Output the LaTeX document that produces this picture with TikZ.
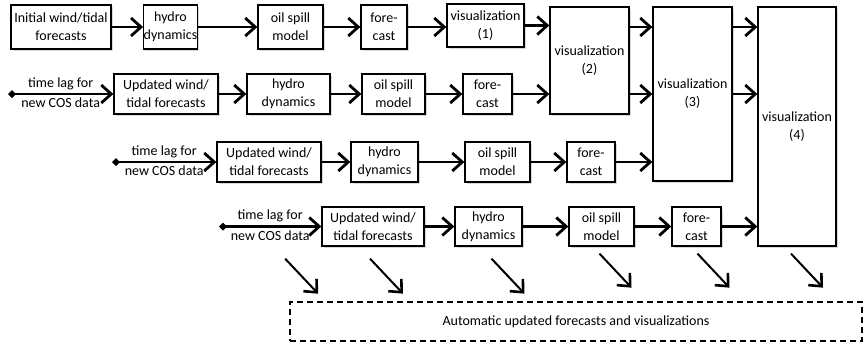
\documentclass[tikz,border=0pt]{standalone}
\usepackage{fontspec}
\setmainfont{Carlito}
\usetikzlibrary{arrows.meta,shadows,calc}

\tikzset{
    box/.style={draw, line width=1.3pt, fill=white, align=center, inner sep=0pt,
        font=\fontsize{14}{18}\selectfont,
        drop shadow={shadow xshift=1.5pt, shadow yshift=-1.5pt, opacity=.3}},
    arr/.style={line width=2.4pt, -{Straight Barb[length=10pt,width=18pt,line width=2.8pt]}},
    lagarr/.style={line width=2.4pt, {Diamond[length=8pt,width=8pt]}-{Straight Barb[length=10pt,width=18pt,line width=2.8pt]}},
    lagtxt/.style={font=\fontsize{14}{18}\selectfont, inner sep=3pt},
    diag/.style={line width=2pt, -{Straight Barb[length=10pt,width=18pt,line width=2.6pt]}},
    dashbox/.style={draw, line width=1.2pt, dash pattern=on 6pt off 4pt, inner sep=0pt,
        font=\fontsize{14}{18}\selectfont}
}

\begin{document}
\begin{tikzpicture}[x=1pt,y=-1pt]
        \useasboundingbox (0,0) rectangle (864,346);

        \node[box, minimum width=100pt, minimum height=44pt] (init) at (61,27) {Initial wind/tidal\\forecasts};
        \node[box, minimum width=53pt, minimum height=44pt] (hydro1) at (170.5,27) {hydro\\dynamics};
        \node[box, minimum width=65pt, minimum height=44pt] (oil1) at (290.5,27) {oil spill\\model};
        \node[box, minimum width=46pt, minimum height=44pt] (fore1) at (384,27) {fore-\\cast};
        \node[box, minimum width=77pt, minimum height=43pt] (viz1) at (485.5,25.5) {visualization\\(1)};
        \node[box, minimum width=79pt, minimum height=107pt] (viz2) at (589.5,60.5) {visualization\\(2)};
        \node[box, minimum width=79pt, minimum height=174pt] (viz3) at (692.5,94) {visualization\\(3)};
        \node[box, minimum width=78pt, minimum height=239pt] (viz4) at (797,126.5) {visualization\\(4)};

        \coordinate (lag2) at (8,94);
        \node[box, minimum width=104pt, minimum height=40pt] (upd2) at (166,94) {Updated wind/\\tidal forecasts};
        \node[box, minimum width=83pt, minimum height=40pt] (hydro2) at (288.5,94) {hydro\\dynamics};
        \node[box, minimum width=63pt, minimum height=40pt] (oil2) at (393.5,94) {oil spill\\model};
        \node[box, minimum width=49pt, minimum height=40pt] (fore2) at (487.5,94) {fore-\\cast};

        \coordinate (lag3) at (112,162);
        \node[box, minimum width=104pt, minimum height=40pt] (upd3) at (269,162) {Updated wind/\\tidal forecasts};
        \node[box, minimum width=67pt, minimum height=40pt] (hydro3) at (384.5,162) {hydro\\dynamics};
        \node[box, minimum width=65pt, minimum height=40pt] (oil3) at (497.5,162) {oil spill\\model};
        \node[box, minimum width=48pt, minimum height=40pt] (fore3) at (591,162) {fore-\\cast};

        \coordinate (lag4) at (219,226.5);
        \node[box, minimum width=102pt, minimum height=39pt] (upd4) at (373,226.5) {Updated wind/\\tidal forecasts};
        \node[box, minimum width=67pt, minimum height=39pt] (hydro4) at (488.5,226.5) {hydro\\dynamics};
        \node[box, minimum width=65pt, minimum height=39pt] (oil4) at (601.5,226.5) {oil spill\\model};
        \node[box, minimum width=49pt, minimum height=39pt] (fore4) at (696.5,226.5) {fore-\\cast};

        \node[dashbox, minimum width=572pt, minimum height=39pt] (auto) at (576,321.5) {Automatic updated forecasts and visualizations};

        \draw[arr] (init) -- (hydro1);
        \draw[arr] (hydro1) -- (oil1);
        \draw[arr] (oil1) -- (fore1);
        \draw[arr] (fore1.east) -- (fore1.east -| viz1.west);
        \draw[arr] (viz1.east) -- (viz1.east -| viz2.west);

        \draw[lagarr] (lag2) -- (upd2) node[midway,above,lagtxt] {time lag for} node[midway,below,lagtxt] {new COS data};
        \draw[arr] (upd2) -- (hydro2);
        \draw[arr] (hydro2) -- (oil2);
        \draw[arr] (oil2) -- (fore2);
        \draw[arr] (fore2.east) -- (fore2.east -| viz2.west);

        \draw[lagarr] (lag3) -- (upd3) node[midway,above,lagtxt] {time lag for} node[midway,below,lagtxt] {new COS data};
        \draw[arr] (upd3) -- (hydro3);
        \draw[arr] (hydro3) -- (oil3);
        \draw[arr] (oil3) -- (fore3);
        \draw[arr] (fore3.east) -- (fore3.east -| viz3.west);

        \draw[lagarr] (lag4) -- (upd4) node[midway,above,lagtxt] {time lag for} node[midway,below,lagtxt] (lagtxt4) {new COS data};
        \draw[arr] (upd4) -- (hydro4);
        \draw[arr] (hydro4) -- (oil4);
        \draw[arr] (oil4) -- (fore4);
        \draw[arr] (fore4.east) -- (fore4.east -| viz4.west);

        \draw[arr] (viz2.east |- init) -- (viz3.west |- init);
        \draw[arr] (viz2.east |- upd2) -- (viz3.west |- upd2);
        \draw[arr] (viz3.east |- init) -- (viz4.west |- init);
        \draw[arr] (viz3.east |- upd2) -- (viz4.west |- upd2);

        \draw[diag] ($(lagtxt4.south)+(15,14)$) -- ++(33,35);
        \draw[diag] ($(upd4.south)+(-3,12)$) -- ++(33,35);
        \draw[diag] ($(hydro4.south)+(3,12)$) -- ++(33,35);
        \draw[diag] ($(oil4.south)+(-2,7)$) -- ++(32,34);
        \draw[diag] ($(fore4.south)+(1,7)$) -- ++(32,34);
        \draw[diag] ($(viz4.south)+(-6,7)$) -- ++(32,34);
    \end{tikzpicture}
\end{document}
